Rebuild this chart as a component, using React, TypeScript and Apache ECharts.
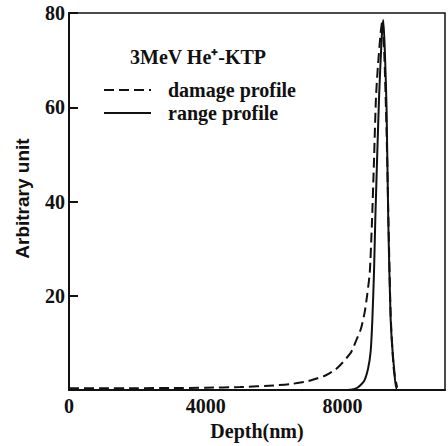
import React, { useEffect, useRef } from "react";
import * as echarts from "echarts";

// Depth (nm) / value pairs
const damageDepth = [0, 1000, 2000, 3000, 4000, 5000, 6000, 6500, 7000, 7500, 7800, 8000, 8250, 8400, 8540, 8650, 8720, 8800, 8865, 8920, 8980, 9040, 9120, 9170, 9230, 9290, 9340, 9410, 9500, 9600];
const damageValue = [0.4, 0.4, 0.4, 0.45, 0.5, 0.65, 1.0, 1.3, 1.9, 3.1, 4.4, 5.8, 8.0, 10.5, 13, 16.5, 20, 25, 36, 48, 62, 69, 76, 78.5, 70, 55, 38, 16, 4.5, 0.5];

const rangeDepth = [0, 2000, 4000, 6000, 8000, 8240, 8435, 8630, 8750, 8825, 8875, 8925, 8960, 9070, 9150, 9195, 9240, 9290, 9340, 9410, 9510, 9605, 10000, 11000];
const rangeValue = [0, 0, 0, 0, 0, 0.1, 0.5, 1.9, 4.6, 8.2, 15, 25.5, 36, 62, 75, 78.5, 72, 60, 36, 15, 4.6, 0, 0, 0];

const xTickLabels = [0, 4000, 8000];
const yTickLabels = [20, 40, 60, 80];

const serif = "Liberation Serif";
const sans = "Liberation Sans";

export default function App() {
  const ref = useRef<HTMLDivElement>(null);
  useEffect(() => {
    if (!ref.current) return;
    const chart = echarts.init(ref.current, undefined, { renderer: "svg" });
    const damage = damageDepth.map((d, i) => [d, damageValue[i]]);
    const range = rangeDepth.map((d, i) => [d, rangeValue[i]]);
    const txt = { fontFamily: serif, fontWeight: "bold" as const, fontSize: 20, color: "#111" };
    chart.setOption({
      animation: false,
      backgroundColor: "#fff",
      textStyle: { ...txt },
      title: {
        text: "3MeV He\u207A-KTP",
        left: 130,
        top: 47,
        padding: 0,
        textStyle: { ...txt },
      },
      legend: {
        data: ["damage profile", "range profile"],
        orient: "vertical",
        left: 103,
        top: 80,
        padding: 0,
        itemWidth: 47,
        itemHeight: 14,
        itemGap: 3,
        itemStyle: { color: "transparent", borderColor: "transparent", borderWidth: 0, opacity: 0 },
        textStyle: { ...txt, padding: [0, 0, 0, 12] },
      },
      grid: {
        left: 69,
        right: 3,
        top: 13,
        bottom: 51,
        show: true,
        borderColor: "#111",
        borderWidth: 1.5,
      },
      xAxis: {
        type: "value",
        min: 0,
        max: 11000,
        interval: 4000,
        name: "Depth(nm)",
        nameLocation: "middle",
        nameGap: 28,
        nameTextStyle: { ...txt },
        axisLine: { lineStyle: { color: "#111", width: 2 } },
        axisTick: { show: false },
        splitLine: { show: false },
        axisLabel: {
          ...txt,
          margin: 6,
          formatter: (v: number) => (xTickLabels.includes(v) ? String(v) : ""),
        },
      },
      yAxis: {
        type: "value",
        min: 0,
        max: 80,
        interval: 20,
        name: "Arbitrary unit",
        nameLocation: "middle",
        nameRotate: 90,
        nameGap: 37,
        nameTextStyle: {
          ...txt,
          fontSize: 19,
          fontFamily: sans,
          padding: [0, 0, 0, 6],
        },
        axisLine: { show: true, lineStyle: { color: "#111", width: 2 } },
        axisTick: { show: true, inside: true, length: 9, lineStyle: { color: "#111", width: 2 } },
        splitLine: { show: false },
        axisLabel: {
          ...txt,
          margin: 4,
          formatter: (v: number) => (yTickLabels.includes(v) ? String(v) : ""),
        },
      },
      series: [
        {
          name: "damage profile",
          type: "line",
          data: damage,
          showSymbol: false,
          symbol: "none",
          smooth: 0.2,
          color: "#111",
          lineStyle: { color: "#111", width: 2, type: [10, 5] },
        },
        {
          name: "range profile",
          type: "line",
          data: range,
          showSymbol: false,
          symbol: "none",
          smooth: 0.2,
          color: "#111",
          lineStyle: { color: "#111", width: 2, type: "solid" },
        },
      ],
    });
    return () => chart.dispose();
  }, []);
  return <div ref={ref} style={{ width: 448, height: 446, position: "fixed", left: 0, top: 0 }} />;
}
